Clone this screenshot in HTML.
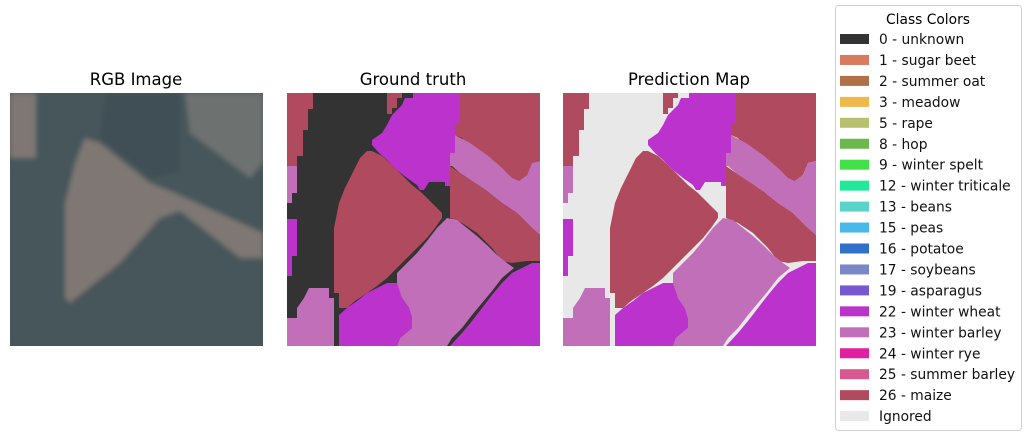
<!DOCTYPE html>
<html><head><meta charset="utf-8"><style>
html,body{margin:0;padding:0;background:#fff;}
svg{display:block;font-family:"DejaVu Sans","Liberation Sans",sans-serif;}
</style></head><body>
<svg id="fig" width="1030" height="438" viewBox="0 0 1030 438">
<defs><filter id="blur" x="-5%" y="-5%" width="110%" height="110%"><feGaussianBlur stdDeviation="2.5"/></filter>
<clipPath id="clipRgb"><rect x="0" y="0" width="253" height="253"/></clipPath></defs>
<text x="136" y="85" font-size="16.5" text-anchor="middle">RGB Image</text>
<text x="413" y="85" font-size="16.5" text-anchor="middle">Ground truth</text>
<text x="689" y="85" font-size="16.5" text-anchor="middle">Prediction Map</text>
<g id="rgb" transform="translate(10,93)" clip-path="url(#clipRgb)"></g>
<g id="gt" transform="translate(287,93)"></g>
<g id="pred" transform="translate(563,93)"></g>
<g id="legend">
<rect x="835.5" y="5.5" width="186" height="425" rx="3" fill="#fff" stroke="#d0d0d0"/>
<text x="928" y="24" font-size="13.8" text-anchor="middle">Class Colors</text>
</g>
</svg>
<script>
const classNames = ["0 - unknown","1 - sugar beet","2 - summer oat","3 - meadow","5 - rape","8 - hop","9 - winter spelt","12 - winter triticale","13 - beans","15 - peas","16 - potatoe","17 - soybeans","19 - asparagus","22 - winter wheat","23 - winter barley","24 - winter rye","25 - summer barley","26 - maize","Ignored"];
const classColors = ["#333333","#d87a5e","#b07048","#eeb84a","#b8c070","#6ab84e","#44e04a","#22e89a","#5ad4c8","#4ab8e8","#3070c8","#7a88c8","#7858d0","#bb33cc","#c06fb8","#e020a0","#d85890","#b04a5e","#e8e8e8"];

const regionClass = [17,14,13,17,13,17,14,17,17,14,13,13,14];
const regionPts = [
 "0,0 26,0 26,16 21,16 21,37 16,37 16,63 10,63 10,73 0,73",
 "0,73 10,73 10,100 5,100 5,110 0,110",
 "0,126 10,126 10,163 5,163 5,183 0,183",
 "100,0 115,0 115,5 110,5 110,15 105,15 105,21 100,21",
 "126,0 173,0 173,42 168,42 168,72 163,72 163,93 158,93 158,89 142,89 137,97 133,97 130,92 120,85 110,77 100,67 92,60 85,52 85,47 95,40 100,32 105,22 115,12 118,5 126,5",
 "173,0 253,0 253,68 245,70 240,82 232,88 225,88 215,78 200,68 185,58 175,45 168,42 168,30 173,30",
 "168,42 183,50 200,62 215,75 225,85 232,88 240,82 245,70 253,68 253,142 245,135 230,120 215,110 200,98 185,88 173,80 165,73 163,73 163,60 168,60",
 "163,73 173,80 185,88 200,98 215,110 230,120 245,135 253,142 253,168 240,168 225,170 215,168 205,155 190,140 175,130 163,125",
 "80,58 85,58 95,63 105,72 115,82 125,92 135,100 145,110 155,120 155,125 148,135 140,145 130,155 120,165 110,175 100,185 90,193 80,200 68,208 60,215 52,215 52,200 47,200 47,135 52,110 58,95 63,85 68,75 73,65",
 "160,125 170,127 180,135 190,143 200,152 210,162 220,170 227,175 215,185 205,198 195,210 185,222 175,235 165,245 160,253 110,253 113,245 125,235 125,225 122,215 115,205 110,195 110,180 120,170 130,160 140,148 150,135",
 "52,222 60,215 70,208 80,200 90,195 100,190 110,190 115,205 122,215 125,225 125,235 113,245 110,253 52,253",
 "163,253 175,240 185,228 195,215 205,202 215,190 225,180 235,175 245,170 253,170 253,253",
 "0,225 10,225 10,215 17,205 22,195 42,195 42,205 47,205 47,253 0,253"
];
const rgbLight = [
 "0,0 26,0 26,65 0,65",
 "75,45 90,50 140,90 165,100 253,140 253,165 230,165 170,118 150,125 110,170 60,210 55,205 55,110 65,70",
 "175,0 253,0 253,70 240,85 180,40"
];
const NS = "http://www.w3.org/2000/svg";
function mk(tag, attrs, parent){const e=document.createElementNS(NS,tag);for(const k in attrs)e.setAttribute(k,attrs[k]);parent.appendChild(e);return e;}

const rgb=document.getElementById('rgb');
const bg=mk('rect',{x:0,y:0,width:253,height:253,fill:'#46565a'},rgb);


const rg=mk('g',{filter:'url(#blur)'},rgb);
mk('rect',{x:-10,y:-10,width:273,height:273,fill:'#46565a'},rg);
mk('polygon',{points:"95,0 170,0 170,80 140,85 90,45",fill:'#3f5055'},rg);
rgbLight.forEach((p,i)=>{
 const e=mk('polygon',{points:p,fill:i==2?'#6d716f':'#7e7773'},rg);
 
 
});

function drawMap(id, bgIdx){
 const g=document.getElementById(id);
 const b=mk('rect',{x:0,y:0,width:253,height:253,fill:classColors[bgIdx]},g);
 
 
 regionPts.forEach((p,i)=>{
  const e=mk('polygon',{points:p,fill:classColors[regionClass[i]]},g);
  
  
 });
}
drawMap('gt',0);
drawMap('pred',18);

const lg=document.getElementById('legend');
classNames.forEach((n,i)=>{
 const y=39+i*20.95;
 const s=mk('rect',{x:840,y:y-5,width:29,height:10,fill:classColors[i]},lg);
 
 
 const t=mk('text',{x:879,y:y+5,'font-size':13.8,fill:'#111'},lg);
 t.textContent=n;
 
 
});
</script>
</body></html>
